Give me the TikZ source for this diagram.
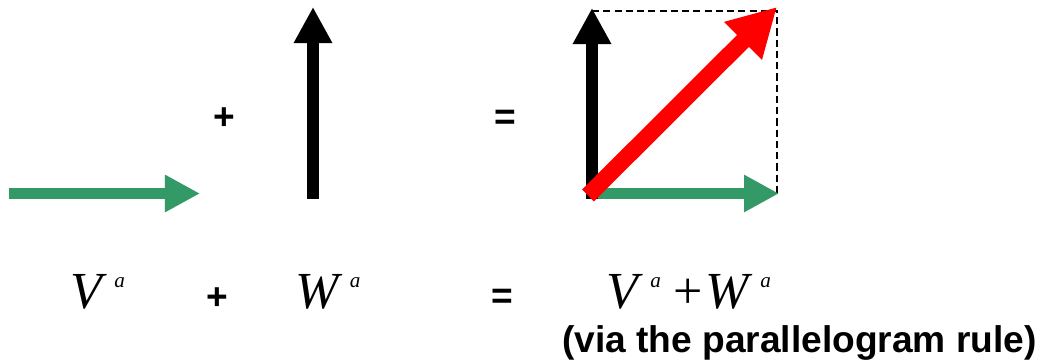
\documentclass[tikz,border=0pt]{standalone}
\usepackage{fontspec}
\setmainfont{Liberation Serif}
\setsansfont{Liberation Sans}
\usepackage{tikz}
\usetikzlibrary{arrows.meta}

\definecolor{vgreen}{RGB}{51,153,102}
\newcommand{\upa}[1]{\textit{#1}\kern0.14em\raisebox{0.4em}{\fontsize{15}{15}\selectfont\textit{a}}}

\begin{document}
\begin{tikzpicture}[
  x=0.025cm, y=-0.025cm,
  greenvec/.style={draw=vgreen, line width=0.275cm, -{Triangle[length=0.875cm, width=0.875cm]}},
  blackvec/.style={draw=black, line width=0.3cm, -{Triangle[length=0.9cm, width=0.9cm]}},
  redvec/.style={draw=red, line width=0.42cm, -{Triangle[length=1.2cm, width=1.25cm]}},
  guide/.style={black, line width=1.3pt, dash pattern=on 5pt off 3pt},
  op/.style={font=\sffamily\bfseries\fontsize{26.4}{30}\selectfont, inner sep=0pt},
  sym/.style={font=\fontsize{37}{40}\selectfont, anchor=base west, inner sep=0pt}
]
  \useasboundingbox (0,0) rectangle (1039,360);

  % the two vectors
  \coordinate (v0) at (9,193.5);
  \coordinate (v1) at (200,193.5);
  \coordinate (w0) at (313,199);
  \coordinate (w1) at (313,7);
  \draw[greenvec] (v0) -- (v1);
  \draw[blackvec] (w0) -- (w1);

  % their sum
  \coordinate (o) at (592,199);
  \coordinate (ov) at (592,193.5);
  \coordinate (vv) at (779,193.5);
  \coordinate (ww) at (592,8);
  \coordinate (c1) at (592,11);
  \coordinate (c2) at (777,11);
  \coordinate (c3) at (777,193);
  \coordinate (s0) at (588,195.5);
  \coordinate (s1) at (777,7);
  \draw[guide] (c1) -- (c2) -- (c3);
  \draw[greenvec] (ov) -- (vv);
  \draw[blackvec] (o) -- (ww);
  \draw[redvec] (s0) -- (s1);

  \node[op] (plus) at (224,119) {+};
  \node[op] (eq) at (505,120) {=};

  % labels
  \node[sym] (vlab) at (70,308) {\upa{V}};
  \node[op] (plus2) at (217,299) {+};
  \node[sym] (wlab) at (295,308) {\upa{W}};
  \node[op] (eq2) at (502,299) {=};
  \node[sym] (sumlab) at (606,308) {\upa{V}\hspace{0.25em}+\hspace{0.05em}\upa{W}};
  \node[op, anchor=base west] (rule) at (562,352) {(via the parallelogram rule)};
\end{tikzpicture}
\end{document}
